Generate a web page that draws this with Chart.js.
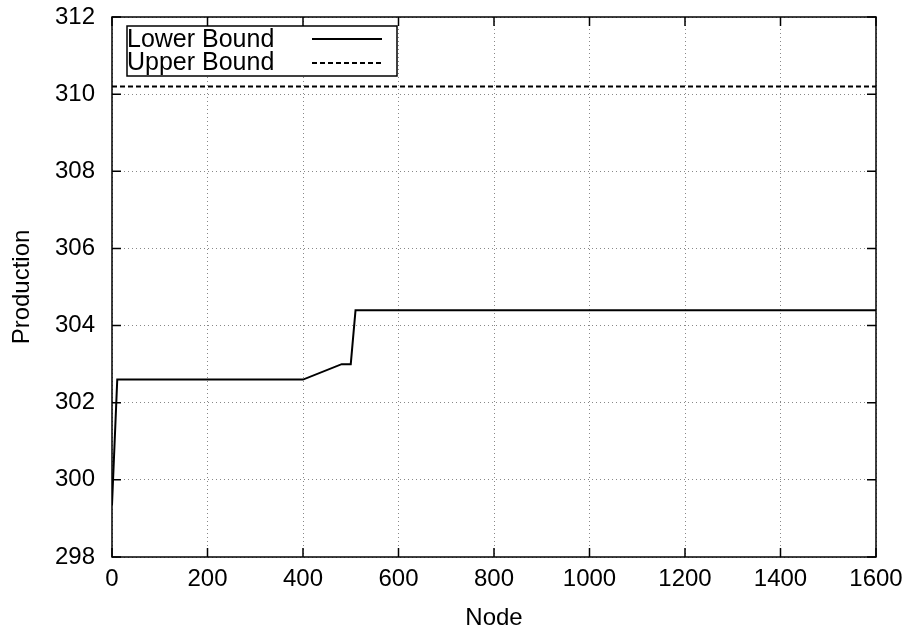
<!DOCTYPE html>
<html>
<head>
<meta charset="utf-8">
<script src="https://cdn.jsdelivr.net/npm/chart.js@4/dist/chart.umd.min.js"></script>
<style>
  html, body { margin: 0; padding: 0; background: #fff; }
  #wrap { width: 906px; height: 633px; }
</style>
</head>
<body>
<div id="wrap"><canvas id="myChart" width="906" height="633"></canvas></div>
<script>
// data
const lowerNodes = [0, 11, 400, 481, 500, 510, 1600];
const lowerBound = [299.35, 302.6, 302.6, 303.0, 303.0, 304.4, 304.4];
const upperNodes = [0, 1600];
const upperBound = [310.2, 310.2];
const xTicks = [0, 200, 400, 600, 800, 1000, 1200, 1400, 1600];
const yTicks = [298, 300, 302, 304, 306, 308, 310, 312];
const seriesNames = ["Lower Bound", "Upper Bound"];

const FONT = "'Liberation Sans', Arial, sans-serif";
const FS = 24;

const toPts = (xs, ys) => xs.map((x, i) => ({x: x, y: ys[i]}));

// frame, inward tick marks and the gnuplot-like legend
const framePlugin = {
    id: "frame",
    afterDatasetsDraw(chart) {
        const ctx = chart.ctx;
        const a = chart.chartArea;
        const xs = chart.scales.x, ys = chart.scales.y;
        ctx.save();
        ctx.strokeStyle = "#000";
        ctx.lineWidth = 1.5;
        ctx.setLineDash([]);
        ctx.beginPath();
        for (const v of xTicks) {
            const px = xs.getPixelForValue(v);
            ctx.moveTo(px, a.bottom); ctx.lineTo(px, a.bottom - 9);
            ctx.moveTo(px, a.top); ctx.lineTo(px, a.top + 9);
        }
        for (const v of yTicks) {
            const py = ys.getPixelForValue(v);
            ctx.moveTo(a.left, py); ctx.lineTo(a.left + 9, py);
            ctx.moveTo(a.right, py); ctx.lineTo(a.right - 9, py);
        }
        ctx.stroke();
        ctx.strokeRect(a.left, a.top, a.right - a.left, a.bottom - a.top);

        // legend box
        const bx = a.left + 15, by = a.top + 9, bw = 270, bh = 50;
        ctx.fillStyle = "#fff";
        ctx.fillRect(bx, by, bw, bh);
        ctx.lineWidth = 1.5;
        ctx.strokeRect(bx, by, bw, bh);
        ctx.font = "25px " + FONT;
        ctx.textBaseline = "alphabetic";
        ctx.fillStyle = "#000";
        chart.data.datasets.forEach((ds, i) => {
            const base = by + 21 + i * 23;
            ctx.fillText(ds.label, bx + 0, base);
            ctx.setLineDash(ds.borderDash || []);
            ctx.lineWidth = ds.borderWidth;
            ctx.beginPath();
            const ly = by + 13 + i * 24;
            ctx.moveTo(bx + 185, ly);
            ctx.lineTo(bx + 255, ly);
            ctx.stroke();
        });
        ctx.restore();
    }
};

const ctx = document.getElementById("myChart").getContext("2d");
const productionChart = new Chart(ctx, {
    type: "line",
    data: {
        datasets: [{
            label: seriesNames[0],
            data: toPts(lowerNodes, lowerBound),
            borderColor: "#000",
            borderWidth: 2,
            pointRadius: 0,
            tension: 0,
            fill: false,
        }, {
            label: seriesNames[1],
            data: toPts(upperNodes, upperBound),
            borderColor: "#000",
            borderWidth: 2,
            borderDash: [5, 3],
            pointRadius: 0,
            tension: 0,
            fill: false,
        }],
    },
    options: {
        responsive: false,
        animation: false,
        layout: { padding: { top: 17, right: 30, left: 0, bottom: 0 } },
        plugins: {
            legend: { display: false },
            tooltip: { enabled: false },
        },
        scales: {
            x: {
                type: "linear",
                min: 0,
                max: 1600,
                afterBuildTicks: s => { s.ticks = xTicks.map(v => ({value: v})); },
                afterFit: s => { s.height = 76; s.paddingLeft = 0; s.paddingRight = 0; },
                ticks: { color: "#000", font: { family: FONT, size: FS }, padding: 8, maxRotation: 0,
                         callback: v => String(v) },
                grid: { color: "#888", lineWidth: 1, drawTicks: false },
                border: { display: false, dash: [1, 3] },
                title: { display: true, text: "Node", color: "#000", font: { family: FONT, size: FS }, padding: { top: 2, bottom: 0 } },
            },
            y: {
                type: "linear",
                min: 298,
                max: 312,
                afterBuildTicks: s => { s.ticks = yTicks.map(v => ({value: v})); },
                afterFit: s => { s.width = 112; s.paddingTop = 0; s.paddingBottom = 0; },
                ticks: { color: "#000", font: { family: FONT, size: FS }, padding: 17, callback: v => String(v) },
                grid: { color: "#888", lineWidth: 1, drawTicks: false },
                border: { display: false, dash: [1, 3] },
                title: { display: true, text: "Production", color: "#000", font: { family: FONT, size: FS }, padding: { top: 8, bottom: 0 } },
            },
        },
    },
    plugins: [framePlugin],
});
</script>
</body>
</html>
